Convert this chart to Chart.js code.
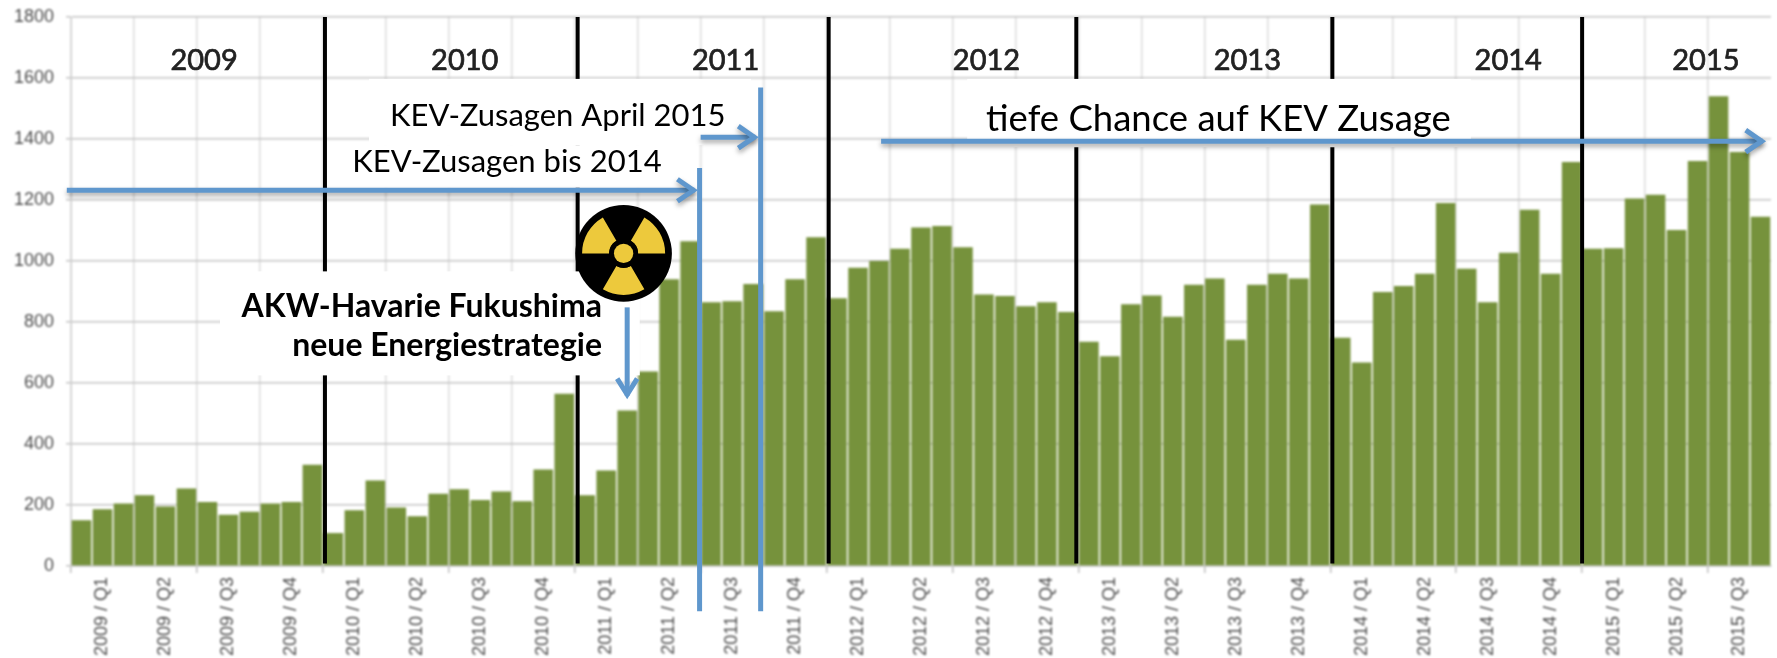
<!DOCTYPE html>
<html><head><meta charset="utf-8">
<style>html,body{margin:0;padding:0;background:#fff}canvas{display:block}</style>
<script src="https://cdn.jsdelivr.net/npm/chart.js@4"></script></head>
<body><canvas id="c" width="1777" height="658"></canvas>
<script>
const quarterLabels = ["2009 / Q1","2009 / Q2","2009 / Q3","2009 / Q4","2010 / Q1","2010 / Q2","2010 / Q3","2010 / Q4","2011 / Q1","2011 / Q2","2011 / Q3","2011 / Q4","2012 / Q1","2012 / Q2","2012 / Q3","2012 / Q4","2013 / Q1","2013 / Q2","2013 / Q3","2013 / Q4","2014 / Q1","2014 / Q2","2014 / Q3","2014 / Q4","2015 / Q1","2015 / Q2","2015 / Q3"];
const values2009 = [150,186,205,232,195,254,210,168,178,205,210,332];
const values2010 = [108,183,280,192,163,237,252,216,244,212,316,565];
const values2011 = [232,313,510,638,940,1065,865,868,925,835,940,1078];
const values2012 = [878,978,1000,1040,1110,1115,1045,890,885,852,865,833];
const values2013 = [735,688,858,887,817,922,943,742,922,958,943,1185];
const values2014 = [748,667,898,918,958,1190,975,865,1027,1168,958,1325];
const values2015 = [1040,1042,1205,1217,1102,1328,1540,1357,1145];
const values = [...values2009,...values2010,...values2011,...values2012,...values2013,...values2014,...values2015];
const categories = quarterLabels.flatMap(q => [q,q,q]);
const yearNames = ["2009","2010","2011","2012","2013","2014","2015"];
const yearCentres = [6.34,18.76,31.19,43.62,56.05,68.48,77.9];
const yearBoundaries = [12.1,24.14,36.1,47.9,60.1,72];

const BLUE = '#5f97cd';
const overlay = {
  id:'overlay',
  beforeDraw(ch){ const c=ch.ctx; c.save(); c.fillStyle='#fff'; c.fillRect(0,0,ch.width,ch.height); c.restore(); },
  afterDraw(ch){
    const c=ch.ctx, xs=ch.scales.x, ys=ch.scales.y;
    const bw=xs.getPixelForValue(1)-xs.getPixelForValue(0);
    const X=b=>xs.left+b*bw, Y=v=>ys.getPixelForValue(v);
    c.save();
    // soften the underlying chart like the scanned original
    c.filter='blur(0.8px)'; c.drawImage(ch.canvas,0,0); c.filter='none';

    // year separators
    c.strokeStyle='#000'; c.lineWidth=4;
    yearBoundaries.forEach(b=>{c.beginPath();c.moveTo(X(b),Y(1800));c.lineTo(X(b),Y(8));c.stroke();});

    // year names
    c.filter='blur(0.6px)';
    c.fillStyle='#222'; c.strokeStyle='#222'; c.lineWidth=0.7; c.font='29px Lato'; c.textAlign='center'; c.textBaseline='alphabetic';
    yearNames.forEach((t,i)=>{c.fillText(t,X(yearCentres[i]),Y(1625));c.strokeText(t,X(yearCentres[i]),Y(1625));});
    c.filter='none';

    // white panels behind annotation text
    c.fillStyle='#fff';
    [[12.3,29.3,1380,1240],[14.2,32.4,1597,1380],[7.1,27.1,966,625],[42.7,66.7,1597,1373]].forEach(([a,b,t,u])=>{
      c.fillRect(X(a),Y(t),X(b)-X(a),Y(u)-Y(t));
    });

    // arrows and lines
    const line=(x0,y0,x1,y1,w)=>{c.lineWidth=w;c.beginPath();c.moveTo(x0,y0);c.lineTo(x1,y1);c.stroke();};
    const shadow=on=>{c.shadowColor=on?'rgba(0,0,0,.35)':'transparent';c.shadowBlur=on?5:0;c.shadowOffsetY=on?3:0;};
    c.strokeStyle=BLUE; c.lineCap='butt'; c.lineJoin='miter';
    const hArrow=(b0,b1,v)=>{
      const x0=X(b0),x1=X(b1),y=Y(v);
      shadow(true);
      line(x0,y,x1-2,y,5);
      c.lineWidth=5;c.beginPath();c.moveTo(x1-19,y-11);c.lineTo(x1-3,y);c.lineTo(x1-19,y+11);c.stroke();
      shadow(false);
    };
    hArrow(-0.2,29.8,1232);
    hArrow(30,32.7,1406);
    hArrow(38.6,80.7,1393);
    line(X(29.95),Y(1305),X(29.95),Y(-148),5);
    line(X(32.86),Y(1569),X(32.86),Y(-148),5);
    // down arrow
    const dx=X(26.5), dy0=Y(848), dy1=Y(552);
    line(dx,dy0,dx,dy1-2,5);
    c.lineWidth=5;c.beginPath();c.moveTo(dx-10,dy1-19);c.lineTo(dx,dy1-3);c.lineTo(dx+10,dy1-19);c.stroke();

    // annotation text
    c.fillStyle='#000'; c.textBaseline='alphabetic'; c.textAlign='left';
    c.font='31px Lato';
    c.fillText('KEV-Zusagen April 2015',X(15.2),Y(1444));
    c.fillText('KEV-Zusagen bis 2014',X(13.4),Y(1291));
    c.font='36.5px Lato';
    c.fillText('tiefe Chance auf KEV Zusage',X(43.6),Y(1425));
    c.textAlign='right'; c.font='bold 32px Lato';
    c.fillText('AKW-Havarie Fukushima',X(25.3),Y(816));
    c.fillText('neue Energiestrategie',X(25.3),Y(688));

    // radiation symbol
    const cx=X(26.33), cy=Y(1025), R=2.3*bw;
    c.fillStyle='#000'; c.beginPath(); c.arc(cx,cy,R,0,Math.PI*2); c.fill();
    c.fillStyle='#edc93c';
    [[180,240],[300,360],[60,120]].forEach(([a,b])=>{
      const A=a*Math.PI/180,B=b*Math.PI/180,r=R*0.86,q=R*0.3;
      c.beginPath(); c.arc(cx,cy,r,A,B); c.arc(cx,cy,q,B,A,true); c.closePath(); c.fill();
    });
    c.fillStyle='#000'; c.beginPath(); c.arc(cx,cy,R*0.3,0,Math.PI*2); c.fill();
    c.fillStyle='#edc93c'; c.beginPath(); c.arc(cx,cy,R*0.2,0,Math.PI*2); c.fill();
    c.restore();
  }
};
const noPad = s => { s.paddingLeft=0; s.paddingRight=0; s.paddingTop=0; s.paddingBottom=0; };

new Chart(document.getElementById('c'),{
  type:'bar',
  data:{labels:categories,datasets:[{data:values,backgroundColor:'#76923c',barPercentage:0.93,categoryPercentage:1}]},
  options:{
    responsive:false,animation:false,devicePixelRatio:1,
    layout:{autoPadding:false,padding:{top:17,right:6,left:0,bottom:0}},
    plugins:{legend:{display:false},title:{display:false},tooltip:{enabled:false}},
    scales:{
      x:{
        afterFit(s){s.height=92;noPad(s);},
        offset:true,
        border:{color:'#bfbfbf',width:1.5},
        grid:{offset:true,drawOnChartArea:true,drawTicks:true,tickLength:7,lineWidth:1.5,
          color:ctx=>ctx.index%3===0?'#dcdcdc':'rgba(0,0,0,0)',
          tickColor:ctx=>ctx.index%6===0?'#bfbfbf':'rgba(0,0,0,0)'},
        ticks:{autoSkip:false,maxRotation:90,minRotation:90,padding:4,color:'#4d4d4d',
          font:{family:'Liberation Sans',size:18},
          callback(v,i){return i%3===1?this.getLabelForValue(v):'';}}
      },
      y:{
        afterFit(s){s.width=71;noPad(s);},
        min:0,max:1800,
        border:{color:'#d0d0d0'},
        grid:{color:'#c4c4c4',lineWidth:1.5,tickLength:5,tickColor:'#c4c4c4'},
        ticks:{stepSize:200,padding:12,color:'#4d4d4d',font:{family:'Liberation Sans',size:18},
          callback(v){return String(v);}}
      }
    }
  },
  plugins:[overlay]
});
</script></body></html>
